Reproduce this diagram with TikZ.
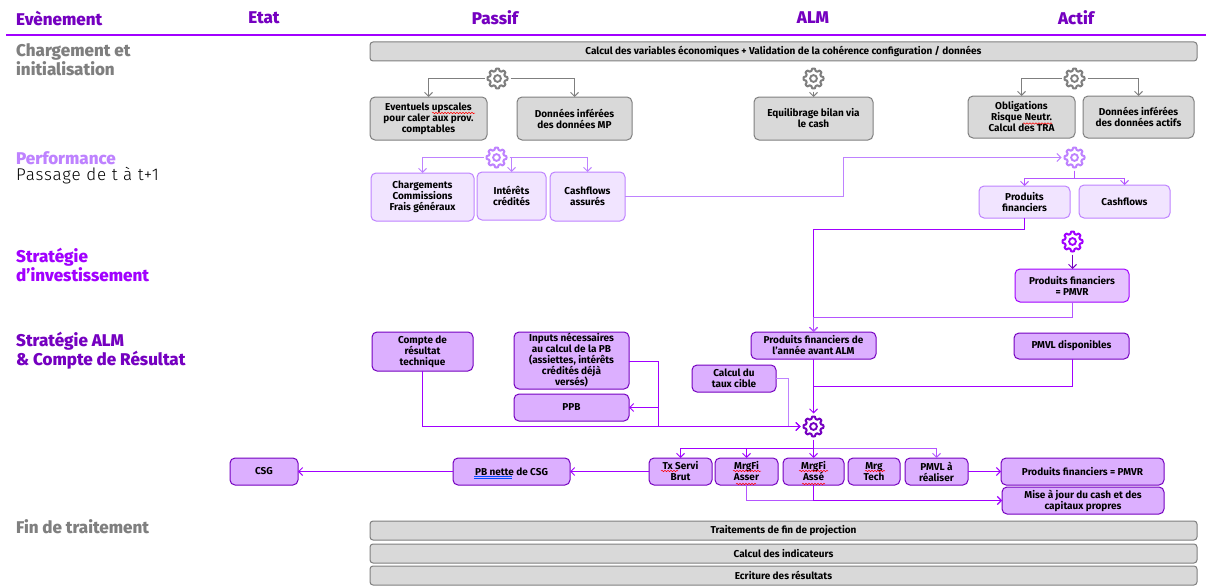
\documentclass[tikz,border=0pt]{standalone}
\usepackage{fontspec}
\setmainfont{Fira Sans}
\newfontfamily\heavy{Fira Sans ExtraBold}
\newfontfamily\lightf[LetterSpace=5]{Fira Sans Light}
\usetikzlibrary{arrows.meta,decorations.pathmorphing,decorations.pathreplacing}
\definecolor{pA}{HTML}{A100FF}
\definecolor{pB}{HTML}{7500C0}
\definecolor{pL}{HTML}{BE82FF}
\definecolor{pM}{HTML}{B455FF}
\definecolor{gS}{HTML}{7F7F7F}
\definecolor{gF}{HTML}{D9D9D9}
\definecolor{fL}{HTML}{F1E4FF}
\definecolor{fM}{HTML}{E6C3FF}
\definecolor{fD}{HTML}{DCAFFF}
\tikzset{
  boxbase/.style={draw,rectangle,rounded corners=5pt,align=center,inner sep=0pt,outer sep=0pt,line width=1pt,text=black,font=\fontsize{10}{11}\selectfont\bfseries},
  graybox/.style={boxbase,fill=gF,draw=gS},
  lightbox/.style={boxbase,fill=fL,draw=pL},
  midbox/.style={boxbase,fill=fM,draw=pA},
  darkbox/.style={boxbase,fill=fD,draw=pB},
  gearnode/.style={circle,minimum size=26pt,inner sep=0pt,outer sep=0pt},
  head/.style={text=pB,font=\fontsize{17}{18}\selectfont\heavy,inner sep=0pt},
  side/.style={anchor=west,align=left,inner sep=0pt,font=\fontsize{17}{19}\selectfont\heavy},
  conn/.style={line width=1pt,-{Straight Barb[length=4pt,width=8pt]}},
  plain/.style={line width=1pt},
  wavy/.style={red,line width=0.5pt,decorate,decoration={snake,amplitude=0.7pt,segment length=3pt}},
  dblue/.style={blue!70!cyan,line width=0.6pt},
}
\newcommand\bx[7]{\node[#2,minimum width={(#5-#3)*1pt},minimum height={(#6-#4)*1pt}] (#1) at ({(#3+#5)/2},{(#4+#6)/2}) {#7};}
\newcommand\gearat[4]{\node[gearnode] (#1) at (#2,#3) {};
  \begin{scope}[shift={(#1.center)}]
  \draw[#4,line width=2pt,line join=round] plot[domain=0:360,samples=145] (\x:{8.9+1.1*max(-1,min(1,2*cos(8*\x)))}) -- cycle;
  \draw[#4,line width=1.9pt] (0,0) circle (3.4);
  \end{scope}}
\begin{document}
\begin{tikzpicture}[x=1pt,y=-1pt]
\useasboundingbox (0,0) rectangle (1215,586);
% headers
\node[head,anchor=west] (hE) at (16,18) {Evènement};
\node[head] (hS) at (264,18) {Etat};
\node[head] (hP) at (495,18) {Passif};
\node[head] (hA) at (813,18) {ALM};
\node[head] (hC) at (1076,18) {Actif};
\coordinate (lineL) at (6,35.5);
\coordinate (lineR) at (1206,35.5);
\draw[pA,line width=2pt] (lineL) -- (lineR);
% side labels
\node[side,text=gS] (s1) at (16,60) {Chargement et\\initialisation};
\node[side,text=pL] (s2) at (16,158) {Performance};
\node[side,anchor=west,font=\fontsize{17}{19}\selectfont\lightf,text=black] (s2b) at (16,176) {Passage de t à t+1};
\node[side,text=pA] (s3) at (16,265) {Stratégie\\d’investissement};
\node[side,text=pB] (s4) at (16,351) {Stratégie ALM\\\& Compte de Résultat};
\node[side,text=gS] (s5) at (16,527) {Fin de traitement};
% gray boxes
\bx{top}{graybox,rounded corners=3pt}{370}{42}{1197}{61}{Calcul des variables économiques + Validation de la cohérence configuration / données}
\bx{ev}{graybox}{370}{97}{487}{140}{Eventuels upscales\\pour caler aux prov.\\comptables}
\bx{dmp}{graybox}{517}{97}{632}{140}{Données inférées\\des données MP}
\bx{eq}{graybox}{754}{97}{873}{140}{Equilibrage bilan via\\le cash}
\bx{ob}{graybox}{968}{96}{1075}{138}{Obligations\\Risque Neutr.\\Calcul des TRA}
\bx{dac}{graybox}{1083}{96}{1194}{138}{Données inférées\\des données actifs}
\gearat{g1}{497.5}{78.5}{gS}
\gearat{g2}{813.5}{78.5}{gS}
\gearat{g3}{1074.5}{78.5}{gS}
\draw[conn,gS] (g1.west) -| (ev.north);
\draw[conn,gS] (g1.east) -| (dmp.north);
\draw[conn,gS] (g2.south) -- (eq.north);
\draw[conn,gS] (g3.west) -| (ob.north);
\draw[conn,gS] (g3.east) -| (dac.north);
% performance
\bx{ch}{lightbox}{371}{173}{474}{221}{Chargements\\Commissions\\Frais généraux}
\bx{int}{lightbox}{477}{172}{546}{220}{Intérêts\\crédités}
\bx{cfa}{lightbox}{550}{172}{625}{221}{Cashflows\\assurés}
\bx{pf}{lightbox}{979}{186}{1070}{218}{Produits\\financiers}
\bx{cf}{lightbox}{1079}{185}{1170}{218}{Cashflows}
\gearat{g4}{496.5}{157.5}{pL}
\gearat{g5}{1074.5}{157.5}{pL}
\draw[conn,pL] (g4.west) -| (ch.north);
\draw[conn,pL] (g4.east) -| (int.north);
\draw[conn,pL] (g4.east) -| (cfa.north);
\draw[conn,pL] (cfa.east) -- (843.5,196.5) |- (g5.west);
\draw[conn,pM] (g5.south) -- (1074.5,178.5) -| (pf.north);
\draw[conn,pM] (g5.south) -- (1074.5,178.5) -| (cf.north);
% strategie investissement
\gearat{g6}{1072.5}{241.5}{pA}
\bx{pmvr}{midbox}{1015}{269}{1129}{302}{Produits financiers\\= PMVR}
\draw[conn,pB] (g6.south) -- (pmvr.north -| g6.south);
% ALM
\bx{crt}{darkbox}{372}{332}{473}{371}{Compte de\\résultat\\technique}
\bx{inp}{darkbox}{514}{332}{629}{389}{Inputs nécessaires\\au calcul de la PB\\(assiettes, intérêts\\crédités déjà\\versés)}
\bx{ppb}{darkbox}{514}{394}{629}{421}{PPB}
\bx{tc}{darkbox}{692}{365}{776}{392}{Calcul du\\taux cible}
\bx{pfa}{darkbox}{751}{332}{876}{359}{Produits financiers de\\l’année avant ALM}
\bx{pmd}{darkbox}{1014}{333}{1129}{359}{PMVL disponibles}
\gearat{g7}{813.5}{426.5}{pB}
\draw[conn,pA] (pf.south) -- (1024.5,229.5) -| (pfa.north);
\draw[conn,pM] (pmvr.south -| g6.south) -- (1072.5,317.5) -| (pfa.north);
\draw[conn,pA] (pfa.south) -- (g7.north);
\draw[plain,pA] (pmd.south -| g6.south) -- (1072.5,386.5) -- (813.5,386.5);
\draw[conn,pL] (tc.east) -- (788.5,378.5) |- (g7.west);
\draw[conn,pA] (crt.south) |- (g7.west);
\draw[conn,pA] (inp.east |- 0,361.5) -- (658.5,361.5) |- (g7.west);
\draw[conn,pA] (658.5,407.5) -- (ppb.east);
% lower row
\bx{csg}{darkbox}{230}{458}{298}{485}{CSG}
\bx{pbn}{darkbox}{453}{458}{570}{485}{PB nette de CSG}
\bx{tx}{darkbox}{649}{458}{712}{485}{Tx Servi\\Brut}
\bx{mas}{darkbox}{715}{458}{778}{485}{MrgFi\\Asser}
\bx{mae}{darkbox}{783}{458}{844}{485}{MrgFi\\Assé}
\bx{mt}{darkbox}{848}{458}{900}{485}{Mrg\\Tech}
\bx{pmr}{darkbox}{905}{458}{968}{485}{PMVL à\\réaliser}
\bx{pfr}{darkbox}{1001}{458}{1164}{485}{Produits financiers = PMVR}
\bx{maj}{darkbox}{1002}{487}{1164}{514}{Mise à jour du cash et des\\capitaux propres}
\draw[conn,pA] (g7.south) -- (813.5,448.5) -| (tx.north);
\draw[conn,pA] (813.5,448.5) -| (mas.north);
\draw[conn,pA] (813.5,448.5) -- (mae.north);
\draw[conn,pM] (813.5,448.5) -| (pmr.north);
\draw[conn,pA] (tx.west) -- (pbn.east);
\draw[conn,pA] (pbn.west) -- (csg.east);
\draw[conn,pA] (pmr.east) -- (pfr.west);
\draw[conn,pM] (mas.south) |- (maj.west);
\draw[conn,pA] (mae.south) |- (maj.west);
% bottom bars
\bx{b1}{graybox,rounded corners=3pt}{370}{521}{1197}{540}{Traitements de fin de projection}
\bx{b2}{graybox,rounded corners=3pt}{370}{544}{1197}{563}{Calcul des indicateurs}
\bx{b3}{graybox,rounded corners=3pt}{370}{566}{1197}{585}{Ecriture des résultats}
% proofing marks
\draw[wavy] (432,113) -- (475,113);
\draw[wavy] (1023,123.5) -- (1052,123.5);
\draw[wavy] (661,471) -- (678,471);
\draw[wavy] (733,471) -- (761,471);
\draw[wavy] (736,484) -- (756,484);
\draw[wavy] (799,471) -- (828,471);
\draw[wavy] (802,484) -- (825,484);
\draw[wavy] (865,471) -- (885,471);
\draw[dblue] (474,476) -- (512,476);
\draw[dblue] (474,478) -- (512,478);
\end{tikzpicture}
\end{document}
